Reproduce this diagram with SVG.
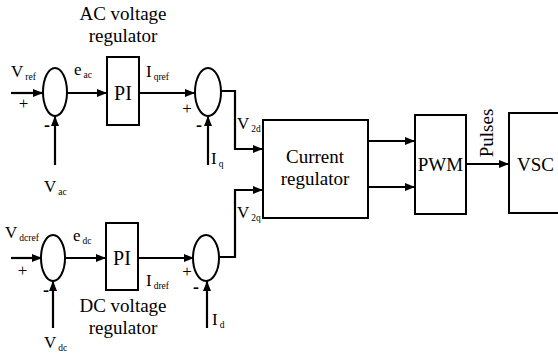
<svg xmlns="http://www.w3.org/2000/svg" width="558" height="358" viewBox="0 0 558 358">
<defs>
<style>
.lbl{font-size:19px}
.var{font-size:17px}
.sub{font-size:9.5px}
.pm{font-size:17px}
.mn{font-size:18px;font-weight:bold}
.box{fill:#fff;stroke:#000;stroke-width:2}
.sum{fill:#fff;stroke:#000;stroke-width:2}
.w{fill:none;stroke:#000;stroke-width:2.2}
</style>
<marker id="ah" viewBox="0 0 10 8" refX="10" refY="4" markerWidth="10" markerHeight="8" markerUnits="userSpaceOnUse" orient="auto">
<path d="M0,0 L10,4 L0,8 Z" fill="#000"/>
</marker>
</defs>
<rect width="558" height="358" fill="#fff"/>

<g id="connectors">
<line class="w" x1="11" y1="93" x2="43" y2="93" marker-end="url(#ah)"/>
<line class="w" x1="55" y1="165" x2="55" y2="116" marker-end="url(#ah)"/>
<line class="w" x1="67" y1="93" x2="107" y2="93" marker-end="url(#ah)"/>
<line class="w" x1="139" y1="93" x2="195" y2="93" marker-end="url(#ah)"/>
<line class="w" x1="208" y1="165" x2="208" y2="116" marker-end="url(#ah)"/>
<polyline class="w" points="221,91 235,91 235,149 263,149" marker-end="url(#ah)"/>

<line class="w" x1="11" y1="258" x2="42" y2="258" marker-end="url(#ah)"/>
<line class="w" x1="53" y1="328" x2="53" y2="281" marker-end="url(#ah)"/>
<line class="w" x1="65" y1="258" x2="106" y2="258" marker-end="url(#ah)"/>
<line class="w" x1="138" y1="258" x2="194" y2="258" marker-end="url(#ah)"/>
<line class="w" x1="207" y1="328" x2="207" y2="281" marker-end="url(#ah)"/>
<polyline class="w" points="219,257 235,257 235,190 263,190" marker-end="url(#ah)"/>

<line class="w" x1="368" y1="141" x2="415" y2="141" marker-end="url(#ah)"/>
<line class="w" x1="368" y1="187" x2="415" y2="187" marker-end="url(#ah)"/>
<line class="w" x1="466" y1="164" x2="509" y2="164" marker-end="url(#ah)"/>
</g>

<g font-family="'Liberation Serif', 'Times New Roman', 'DejaVu Serif', serif" fill="#000">
<g id="sum-ac">
<ellipse class="sum" cx="55" cy="92" rx="12" ry="24"/>
</g>
<g id="pi-ac">
<rect class="box" x="107" y="57" width="32" height="68"/>
<text class="lbl" x="123" y="100" text-anchor="middle" style="font-size:20px">PI</text>
</g>
<g id="sum-q">
<ellipse class="sum" cx="208" cy="92" rx="13" ry="24"/>
</g>
<g id="sum-dc">
<ellipse class="sum" cx="53" cy="258" rx="12" ry="23"/>
</g>
<g id="pi-dc">
<rect class="box" x="106" y="223" width="32" height="67"/>
<text class="lbl" x="122" y="265" text-anchor="middle" style="font-size:20px">PI</text>
</g>
<g id="sum-d">
<ellipse class="sum" cx="206" cy="258" rx="13" ry="23"/>
</g>
<g id="current-regulator">
<rect class="box" x="263" y="120" width="105" height="98"/>
<text class="lbl" x="315" y="163" text-anchor="middle">Current</text>
<text class="lbl" x="315" y="185" text-anchor="middle">regulator</text>
</g>
<g id="pwm">
<rect class="box" x="415" y="115" width="51" height="99"/>
<text class="lbl" x="440.5" y="171" text-anchor="middle">PWM</text>
</g>
<g id="vsc">
<rect class="box" x="509" y="113" width="60" height="100"/>
<text class="lbl" x="517" y="171">VSC</text>
</g>

<g id="labels">
<text class="lbl" x="123" y="20" text-anchor="middle">AC voltage</text>
<text class="lbl" x="123" y="42" text-anchor="middle">regulator</text>
<text class="lbl" x="123" y="312" text-anchor="middle">DC voltage</text>
<text class="lbl" x="123" y="334" text-anchor="middle">regulator</text>

<text class="var" x="11" y="77">V<tspan class="sub" dx="2" dy="3">ref</tspan></text>
<text class="pm" x="23.5" y="109" text-anchor="middle">+</text>
<text class="mn" x="47" y="131" text-anchor="middle">-</text>
<text class="var" x="44" y="192">V<tspan class="sub" dx="2" dy="3">ac</tspan></text>
<text class="var" x="74" y="75">e<tspan class="sub" dx="2" dy="3">ac</tspan></text>
<text class="var" x="146" y="77">I<tspan class="sub" dx="2" dy="3">qref</tspan></text>
<text class="pm" x="187" y="114" text-anchor="middle">+</text>
<text class="mn" x="199" y="131" text-anchor="middle">-</text>
<text class="var" x="211" y="164">I<tspan class="sub" dx="2" dy="3">q</tspan></text>
<text class="var" x="237" y="129">V<tspan class="sub" dx="2" dy="3">2d</tspan></text>

<text class="var" x="5" y="238">V<tspan class="sub" dx="2" dy="3">dcref</tspan></text>
<text class="pm" x="22.5" y="276" text-anchor="middle">+</text>
<text class="mn" x="46" y="296" text-anchor="middle">-</text>
<text class="var" x="44" y="348">V<tspan class="sub" dx="2" dy="3">dc</tspan></text>
<text class="var" x="73" y="241">e<tspan class="sub" dx="2" dy="3">dc</tspan></text>
<text class="var" x="146" y="286">I<tspan class="sub" dx="2" dy="3">dref</tspan></text>
<text class="pm" x="187" y="277" text-anchor="middle">+</text>
<text class="mn" x="196" y="293" text-anchor="middle">-</text>
<text class="var" x="212" y="325">I<tspan class="sub" dx="2" dy="3">d</tspan></text>
<text class="var" x="237" y="218">V<tspan class="sub" dx="2" dy="3">2q</tspan></text>

<text class="lbl" transform="translate(493,133) rotate(-90)" text-anchor="middle">Pulses</text>
</g>
</g>
</svg>
